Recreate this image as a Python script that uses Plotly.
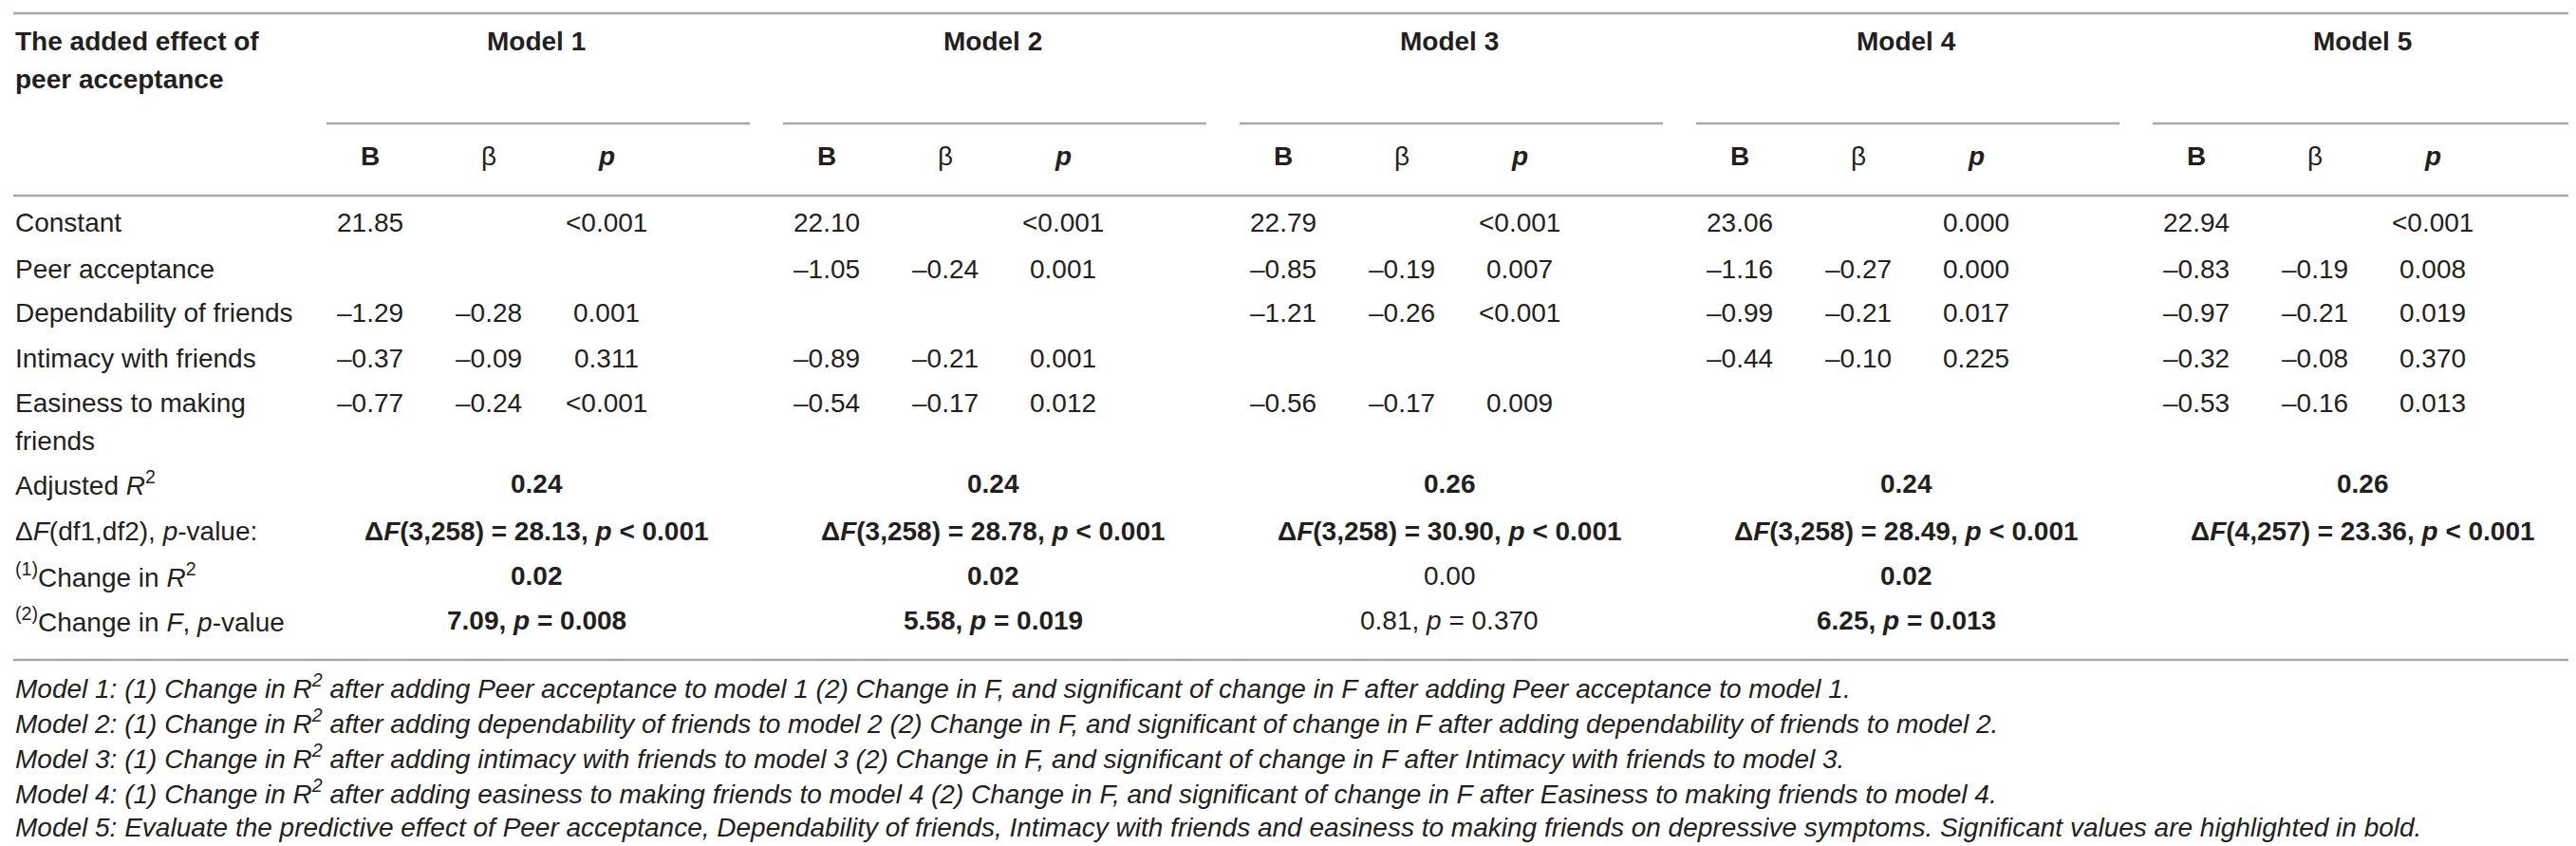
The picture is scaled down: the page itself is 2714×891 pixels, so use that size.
import plotly.graph_objects as go

# table content
models = ["Model 1", "Model 2", "Model 3", "Model 4", "Model 5"]
stat_headers = ["<b>B</b>", "β", "<b><i>p</i></b>"]
row_labels = ["Constant", "Peer acceptance", "Dependability of friends",
              "Intimacy with friends", "Easiness to making<br>friends"]

# B, beta and p for each model (None = predictor not in the model)
B = [
    [21.85, None, -1.29, -0.37, -0.77],
    [22.10, -1.05, None, -0.89, -0.54],
    [22.79, -0.85, -1.21, None, -0.56],
    [23.06, -1.16, -0.99, -0.44, None],
    [22.94, -0.83, -0.97, -0.32, -0.53],
]
beta = [
    [None, None, -0.28, -0.09, -0.24],
    [None, -0.24, None, -0.21, -0.17],
    [None, -0.19, -0.26, None, -0.17],
    [None, -0.27, -0.21, -0.10, None],
    [None, -0.19, -0.21, -0.08, -0.16],
]
p_vals = [
    ["<0.001", None, "0.001", "0.311", "<0.001"],
    ["<0.001", "0.001", None, "0.001", "0.012"],
    ["<0.001", "0.007", "<0.001", None, "0.009"],
    ["0.000", "0.000", "0.017", "0.225", None],
    ["<0.001", "0.008", "0.019", "0.370", "0.013"],
]

adj_r2 = [0.24, 0.24, 0.26, 0.24, 0.26]
df1 = [3, 3, 3, 3, 4]
df2 = [258, 258, 258, 258, 257]
delta_F = [28.13, 28.78, 30.90, 28.49, 23.36]
change_r2 = [0.02, 0.02, 0.00, 0.02, None]
change_F = [7.09, 5.58, 0.81, 6.25, None]
change_F_p = ["0.008", "0.019", "0.370", "0.013", None]
significant = [True, True, False, True, None]

summary_labels = ["Adjusted <i>R</i><sup>2</sup>",
                  "Δ<i>F</i>(df1,df2), <i>p</i>-value:",
                  "<sup>(1)</sup>Change in <i>R</i><sup>2</sup>",
                  "<sup>(2)</sup>Change in <i>F</i>, <i>p</i>-value"]

footnotes = [
    "Model 1: (1) Change in R<sup>2</sup> after adding Peer acceptance to model 1 (2) Change in F, and significant of change in F after adding Peer acceptance to model 1.",
    "Model 2: (1) Change in R<sup>2</sup> after adding dependability of friends to model 2 (2) Change in F, and significant of change in F after adding dependability of friends to model 2.",
    "Model 3: (1) Change in R<sup>2</sup> after adding intimacy with friends to model 3 (2) Change in F, and significant of change in F after Intimacy with friends to model 3.",
    "Model 4: (1) Change in R<sup>2</sup> after adding easiness to making friends to model 4 (2) Change in F, and significant of change in F after Easiness to making friends to model 4.",
    "Model 5: Evaluate the predictive effect of Peer acceptance, Dependability of friends, Intimacy with friends and easiness to making friends on depressive symptoms. Significant values are highlighted in bold.",
]

W, H = 2714, 891
FONT = "Liberation Sans, Arial, sans-serif"
INK = "#231f20"
RULE = "#a8a8a8"
FS = 28

# layout grid (pixels)
x_label = 6
model_step = 481
x_center0 = 557
col_offsets = [-175, -50, 74]
y_head1 = 35
y_sub = 156
row_y = [226, 275, 321, 369, 416]
sum_y = [501, 551, 598, 645]
foot_y = [715, 752, 789, 826, 863]
line_gap = 40


def fmt(v):
    if v is None:
        return ""
    s = f"{v:.2f}"
    return s.replace("-", "–")


def lt(s):
    return s.replace("<0", "&lt;0")


annotations = []


def add(text, x, y, anchor="center", size=FS, italic=False):
    if not text:
        return
    if italic:
        text = "<i>" + text + "</i>"
    annotations.append(dict(
        x=x, y=y, xref="x", yref="y", text=text, showarrow=False,
        xanchor=anchor, yanchor="middle",
        font=dict(family=FONT, size=size, color=INK),
    ))


def add_label(text, y):
    for i, part in enumerate(text.split("<br>")):
        add(part, x_label, y + i * line_gap, anchor="left")


add_label("<b>The added effect of</b><br><b>peer acceptance</b>", y_head1)

for m, name in enumerate(models):
    xc = x_center0 + m * model_step
    add("<b>" + name + "</b>", xc, y_head1)
    for k, h in enumerate(stat_headers):
        add(h, xc + col_offsets[k], y_sub)
    for r in range(len(row_labels)):
        add(fmt(B[m][r]), xc + col_offsets[0], row_y[r])
        add(fmt(beta[m][r]), xc + col_offsets[1], row_y[r])
        add(lt(p_vals[m][r] or ""), xc + col_offsets[2], row_y[r])
    add(f"<b>{adj_r2[m]:.2f}</b>", xc, sum_y[0])
    add(f"<b>Δ<i>F</i>({df1[m]},{df2[m]}) = {delta_F[m]:.2f}, <i>p</i> &lt; 0.001</b>", xc, sum_y[1])
    if change_r2[m] is not None:
        t2 = f"{change_r2[m]:.2f}"
        t3 = f"{change_F[m]:.2f}, <i>p</i> = {change_F_p[m]}"
        if significant[m]:
            t2, t3 = "<b>" + t2 + "</b>", "<b>" + t3 + "</b>"
        add(t2, xc, sum_y[2])
        add(t3, xc, sum_y[3])

for r, lab in enumerate(row_labels):
    add_label(lab, row_y[r])
for r, lab in enumerate(summary_labels):
    add_label(lab, sum_y[r])
for r, note in enumerate(footnotes):
    add(note, x_label, foot_y[r], anchor="left", size=28, italic=True)

# horizontal rules
shapes = []


def hline(x0, x1, y):
    shapes.append(dict(type="line", xref="x", yref="y", x0=x0, x1=x1, y0=y, y1=y,
                       line=dict(color=RULE, width=2.5)))


hline(6, 2708, 6)
hline(6, 2708, 198)
hline(6, 2708, 687)
for m in range(len(models)):
    xc = x_center0 + m * model_step
    hline(xc - 221, xc + 225, 122)

fig = go.Figure()
fig.add_trace(go.Scatter(x=[0, W], y=[0, H], mode="markers",
                         marker=dict(opacity=0), hoverinfo="skip", showlegend=False))
fig.update_layout(
    width=W, height=H,
    margin=dict(l=0, r=0, t=0, b=0),
    paper_bgcolor="white", plot_bgcolor="white",
    xaxis=dict(range=[0, W], visible=False, fixedrange=True),
    yaxis=dict(range=[H, 0], visible=False, fixedrange=True),
    annotations=annotations, shapes=shapes,
)

fig.write_html("out.html")
